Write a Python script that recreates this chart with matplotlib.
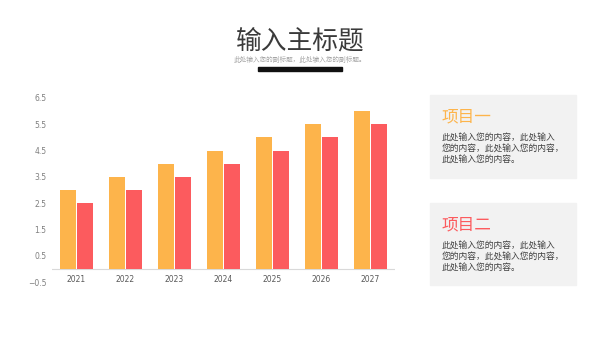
import matplotlib
matplotlib.use("Agg")
import matplotlib.pyplot as plt
from matplotlib.patches import Rectangle
import numpy as np

plt.rcParams['font.family'] = ['Noto Sans CJK SC', 'DejaVu Sans']

years = ["2021", "2022", "2023", "2024", "2025", "2026", "2027"]
series_a = [3.0, 3.5, 4.0, 4.5, 5.0, 5.5, 6.0]
series_b = [2.5, 3.0, 3.5, 4.0, 4.5, 5.0, 5.5]
y_ticks = [-0.5, 0.5, 1.5, 2.5, 3.5, 4.5, 5.5, 6.5]

title = "输入主标题"
subtitle = "此处输入您的副标题，此处输入您的副标题。"
card_titles = ["项目一", "项目二"]
card_body = "此处输入您的内容，此处输入\n您的内容，此处输入您的内容，\n此处输入您的内容。"

orange = "#FDB44B"
red = "#FC5B5E"

W, H = 600, 338
fig = plt.figure(figsize=(6.0, 3.38), dpi=100)

def fx(px):
    return px / W

def fy(py):
    return 1 - py / H

# Bar chart
ax = fig.add_axes([fx(52), fy(282), fx(395) - fx(52), fy(98) - fy(282)])
x = np.arange(len(years))
w = 0.33
ax.bar(x - w / 2 - 0.01, series_a, width=w, color=orange, zorder=2)
ax.bar(x + w / 2 + 0.01, series_b, width=w, color=red, zorder=2)
ax.axhline(0, color="#d9d9d9", lw=0.8, zorder=1)
ax.set_xlim(-0.5, len(years) - 0.5)
ax.set_ylim(-0.5, 6.5)
ax.set_yticks(y_ticks)
ax.set_yticklabels([f"{v:.1f}" if v >= 0 else f"−{abs(v):.1f}" for v in y_ticks])
ax.set_xticks([])
for i, yr in enumerate(years):
    ax.text(i, -0.4, yr, ha="center", va="center", fontsize=5.5, color="#595959",
            family="DejaVu Sans")
for s in ax.spines.values():
    s.set_visible(False)
ax.tick_params(axis="y", length=0, labelsize=5.5, labelcolor="#7f7f7f", pad=4)
for lbl in ax.get_yticklabels():
    lbl.set_family("DejaVu Sans")

# Title block
fig.text(fx(300), fy(41), title, ha="center", va="center", fontsize=18.5, color="#3a3a3a")
fig.text(fx(300), fy(60), subtitle, ha="center", va="center", fontsize=4.8, color="#a6a6a6")
fig.patches.append(Rectangle((fx(258), fy(70.5)), fx(342) - fx(258), 3 / H,
                             transform=fig.transFigure, color="#111111"))

# Text cards
cards = [(95, 178, orange), (203, 285, red)]
for (top, bottom, col), ttl in zip(cards, card_titles):
    fig.patches.append(Rectangle((fx(430), fy(bottom)), fx(576) - fx(430), (bottom - top) / H,
                                 transform=fig.transFigure, color="#f2f2f2", zorder=0))
    fig.text(fx(442), fy(top + 22), ttl, ha="left", va="center", fontsize=12, color=col)
    fig.text(fx(442), fy(top + 39), card_body, ha="left", va="top", fontsize=6.3,
             color="#404040", linespacing=1.25)

fig.savefig("out.png", dpi=100, facecolor="white")
